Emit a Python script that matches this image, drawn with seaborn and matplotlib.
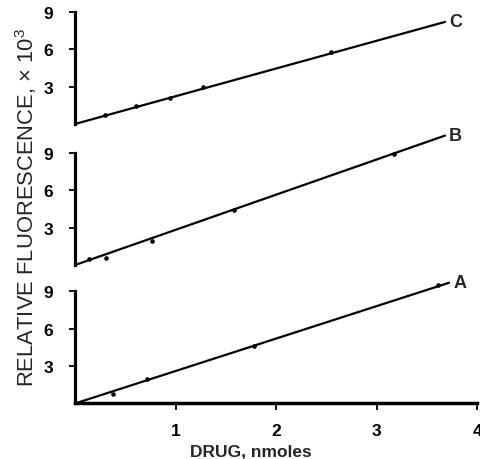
import matplotlib
matplotlib.use("Agg")
import matplotlib.pyplot as plt
import seaborn as sns

# curve names, top panel to bottom panel
curves = ["C", "B", "A"]

# measured points: drug (nmoles) vs fluorescence (x 10^3)
c_x = [0.30, 0.61, 0.94, 1.27, 2.55]
c_y = [0.72, 1.45, 2.09, 2.97, 5.79]
b_x = [0.14, 0.31, 0.77, 1.58, 3.17]
b_y = [0.48, 0.56, 1.93, 4.42, 8.92]
a_x = [0.38, 0.72, 1.78, 3.61]
a_y = [0.80, 1.93, 4.58, 9.48]

# fitted straight lines, drawn from the origin to these end points
line_end_x = [3.68, 3.68, 3.72]
line_end_y = [8.2, 10.4, 9.7]

y_ticks = [3, 6, 9]
x_ticks = [1, 2, 3, 4]

sns.set_style("ticks")
plt.rcParams["font.family"] = ["Liberation Sans", "DejaVu Sans"]
plt.rcParams["mathtext.default"] = "regular"

fig = plt.figure(figsize=(4.81, 4.60), dpi=100)

points = [(c_x, c_y), (b_x, b_y), (a_x, a_y)]
left, width, height = 0.156, 0.836, 0.2435
bottoms = [0.7283, 0.4217, 0.1207]

for i, name in enumerate(curves):
    ax = fig.add_axes([left, bottoms[i], width, height])
    px, py = points[i]
    ex, ey = line_end_x[i], line_end_y[i]

    sns.lineplot(x=[0, ex], y=[0, ey], ax=ax, color="black", linewidth=1.6)
    sns.scatterplot(x=px, y=py, ax=ax, color="black", s=11, linewidth=0)
    for art in ax.lines + ax.collections:
        art.set_clip_on(False)

    ax.set_xlim(0, 4)
    ax.set_ylim(0, 9)
    for s in ["top", "right"]:
        ax.spines[s].set_visible(False)
    ax.spines["left"].set_linewidth(2.3)
    ax.spines["left"].set_color("black")

    ax.set_yticks(y_ticks)
    ax.tick_params(axis="y", length=4, width=1.3, pad=12, labelsize=12.5, colors="black")
    for t in ax.get_yticklabels():
        t.set_fontweight("bold")

    if i < 2:
        ax.spines["bottom"].set_visible(False)
        ax.set_xticks([])
    else:
        ax.spines["bottom"].set_linewidth(2.5)
        ax.spines["bottom"].set_color("black")
        ax.set_xticks(x_ticks)
        ax.tick_params(axis="x", length=5, width=1.3, pad=9, labelsize=12.5, colors="black")
        for t in ax.get_xticklabels():
            t.set_fontweight("bold")

    ax.annotate(name, xy=(ex, ey), xytext=(3, 0), textcoords="offset points",
                ha="left", va="center", fontsize=13, fontweight="bold",
                annotation_clip=False)

fig.text(0.054, 0.55, "RELATIVE FLUORESCENCE, × 10$^{3}$", rotation=90,
         ha="center", va="center", fontsize=15.8)
fig.text(0.522, 0.017, "DRUG, nmoles", ha="center", va="center",
         fontsize=12.5, fontweight="bold")

fig.savefig("out.png", dpi=100)
